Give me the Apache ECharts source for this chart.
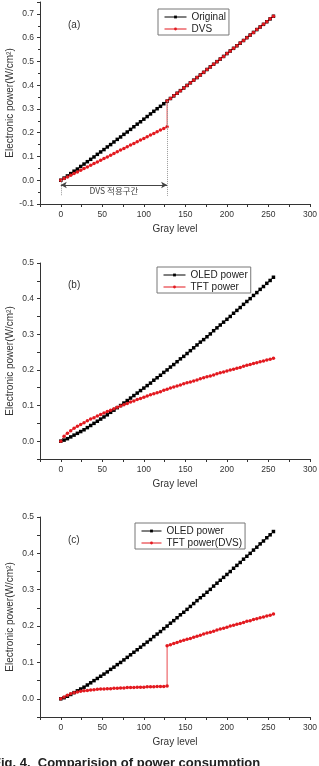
<!DOCTYPE html>
<html>
<head>
<meta charset="utf-8">
<script src="https://cdn.jsdelivr.net/npm/echarts@6/dist/echarts.min.js"></script>
<style>
    html, body { margin: 0; padding: 0; background: #fff; }
    #power-chart { width: 319px; height: 766px; }
</style>
</head>
<body>
<div id="power-chart"></div>
<script>
    // gray levels, one point every 4 steps
    var grayLevels = [0,4,8,12,16,20,24,28,32,36,40,44,48,52,56,60,64,68,72,76,80,84,88,92,96,100,
        104,108,112,116,120,124,128,132,136,140,144,148,152,156,160,164,168,172,176,180,184,188,192,196,
        200,204,208,212,216,220,224,228,232,236,240,244,248,252,256];

    // (a) original power, whole range
    var originalA = [0,.009,.018,.028,.038,.047,.058,.068,.078,.088,.098,.109,.119,.129,.140,.150,.161,
        .172,.182,.193,.203,.214,.225,.236,.246,.257,.268,.279,.290,.301,.311,.322,.333,.344,.355,.366,
        .377,.388,.399,.410,.421,.432,.443,.454,.466,.477,.488,.499,.510,.521,.533,.544,.555,.566,.577,
        .588,.600,.611,.622,.634,.645,.656,.667,.679,.690];
    // (a) DVS, gray 0..128 and gray 128..256
    var dvsLowA = [0,.007,.014,.021,.028,.035,.042,.049,.056,.063,.070,.077,.084,.091,.098,.105,.112,
        .120,.127,.134,.141,.148,.155,.162,.169,.176,.183,.190,.197,.204,.211,.218,.225];
    var dvsHighA = [.333,.344,.355,.366,.377,.388,.399,.410,.421,.432,.443,.454,.466,.477,.488,.499,
        .510,.521,.533,.544,.555,.566,.577,.588,.600,.611,.622,.634,.645,.656,.667,.679,.690];

    // (b)/(c) OLED power
    var oledPower = [0,.003,.007,.012,.017,.022,.027,.032,.038,.044,.050,.056,.062,.068,.074,.081,.087,
        .094,.100,.107,.114,.121,.128,.135,.142,.149,.156,.163,.171,.178,.185,.193,.200,.208,.215,.223,
        .231,.238,.246,.254,.262,.270,.278,.285,.293,.301,.310,.318,.326,.334,.342,.350,.359,.367,.375,
        .384,.392,.400,.409,.417,.426,.434,.443,.451,.460];
    // (b) TFT power
    var tftPower = [0,.014,.022,.029,.036,.042,.047,.052,.057,.062,.066,.071,.075,.079,.083,.087,.091,
        .095,.099,.102,.106,.110,.113,.117,.120,.123,.127,.130,.133,.136,.139,.143,.146,.149,.152,.155,
        .158,.161,.164,.166,.169,.172,.175,.178,.181,.183,.186,.189,.192,.194,.197,.200,.202,.205,.207,
        .210,.213,.215,.218,.220,.223,.225,.228,.230,.233];
    // (c) TFT power with DVS, gray 0..128 and gray 128..256
    var tftDvsLow = [0,.005,.010,.014,.017,.019,.021,.022,.023,.024,.025,.026,.027,.027,.028,.028,.029,
        .029,.030,.030,.031,.031,.031,.032,.032,.032,.033,.033,.033,.034,.034,.034,.035];
    var tftDvsHigh = [.146,.149,.152,.155,.158,.161,.164,.166,.169,.172,.175,.178,.181,.183,.186,.189,
        .192,.194,.197,.200,.202,.205,.207,.210,.213,.215,.218,.220,.223,.225,.228,.230,.233];

    var RED = '#e3191f';
    var FONT = '"Liberation Sans", Arial, sans-serif';

    function pairs(xs, ys) {
        return ys.map(function (y, i) { return [xs[i], y]; });
    }
    var lowGray = grayLevels.slice(0, 33);
    var highGray = grayLevels.slice(32);

    function xAxisFor(idx) {
        return {
            type: 'value', gridIndex: idx, min: -25, max: 300, interval: 25,
            name: 'Gray level', nameLocation: 'middle', nameGap: 20,
            nameTextStyle: { fontSize: 10, color: '#333', fontFamily: FONT },
            axisLine: { onZero: false, lineStyle: { color: '#333', width: 1 } },
            axisTick: { length: 3, lineStyle: { color: '#333' } },
            splitLine: { show: false },
            axisLabel: {
                fontSize: 8.5, color: '#333', fontFamily: FONT, margin: 6,
                formatter: function (v) {
                    var r = Math.round(v);
                    return (r % 50 === 0 && r >= 0) ? String(r) : '';
                }
            }
        };
    }
    function yAxisFor(idx, min, max, interval, fmt) {
        return {
            type: 'value', gridIndex: idx, min: min, max: max, interval: interval,
            name: 'Electronic power(W/cm²)', nameLocation: 'middle', nameRotate: 90,
            nameGap: 25, nameMoveOverlap: false,
            nameTextStyle: { fontSize: 10, color: '#333', fontFamily: FONT },
            axisLine: { show: true, onZero: false, lineStyle: { color: '#333', width: 1 } },
            axisTick: { show: true, length: 3, lineStyle: { color: '#333' } },
            minorTick: { show: interval === 0.1, splitNumber: 2, length: 2, lineStyle: { color: '#333' } },
            splitLine: { show: false },
            axisLabel: { fontSize: 8.5, color: '#333', fontFamily: FONT, margin: 6, showMaxLabel: min === -0.1 ? false : true, formatter: fmt }
        };
    }
    function oneDecimal(v) { return v.toFixed(1); }
    function tenthsOnly(v) {
        var c = Math.round(v * 100);
        return (c % 10 === 0 && c >= 0) ? (c / 100).toFixed(1) : '';
    }
    function legendFor(left, top, names, width) {
        return {
            orient: 'vertical', left: left, top: top, data: names,
            borderColor: '#777', borderWidth: 1, borderRadius: 0,
            padding: [3, 3, 1, 6], itemGap: 2, itemWidth: width, itemHeight: 3.5,
            lineStyle: { width: 1 },
            textStyle: { fontSize: 10, color: '#222', fontFamily: FONT }
        };
    }
    function blackSeries(name, idx, data) {
        return {
            name: name, type: 'line', xAxisIndex: idx, yAxisIndex: idx, data: data,
            symbol: 'rect', symbolSize: 3.5, itemStyle: { color: '#000' },
            lineStyle: { color: '#000', width: 1 }
        };
    }
    function redSeries(name, idx, data) {
        return {
            name: name, type: 'line', xAxisIndex: idx, yAxisIndex: idx, data: data,
            symbol: 'circle', symbolSize: 3.5, itemStyle: { color: RED },
            lineStyle: { color: RED, width: 0.8 }
        };
    }

    var origSeries = blackSeries('Original', 0, pairs(grayLevels, originalA));
    origSeries.markLine = {
        silent: true, symbol: ['none', 'none'], animation: false,
        label: { show: false },
        lineStyle: { type: 'dotted', color: '#999', width: 1 },
        data: [
            [{ coord: [0, 0] }, { coord: [0, -0.066] }],
            [{ coord: [128, 0.333] }, { coord: [128, -0.066] }]
        ]
    };
    var dvsSeries = redSeries('DVS', 0, pairs(lowGray, dvsLowA).concat(pairs(highGray, dvsHighA)));
    dvsSeries.markLine = {
        silent: true, symbol: ['arrow', 'arrow'], symbolSize: [5, 6], animation: false,
        lineStyle: { type: 'solid', color: '#444', width: 1 },
        label: {
            show: true, position: 'insideMiddleBottom', formatter: 'DVS 적용구간', distance: 2,
            fontSize: 8.5, color: '#444', fontFamily: '"Noto Sans CJK KR", sans-serif'
        },
        data: [[{ coord: [0, -0.02] }, { coord: [128, -0.02] }]]
    };

    var option = {
        animation: false,
        grid: [
            { left: 40, right: 9, top: 2, height: 202, outerBoundsMode: 'none' },
            { left: 40, right: 9, top: 263, height: 196, outerBoundsMode: 'none' },
            { left: 40, right: 9, top: 517, height: 200, outerBoundsMode: 'none' }
        ],
        xAxis: [xAxisFor(0), xAxisFor(1), xAxisFor(2)],
        yAxis: [
            yAxisFor(0, -0.1, 0.75, 0.1, oneDecimal),
            yAxisFor(1, -0.05, 0.5, 0.05, tenthsOnly),
            yAxisFor(2, -0.05, 0.5, 0.05, tenthsOnly)
        ],
        legend: [
            legendFor(158, 9, ['Original', 'DVS'], 22),
            legendFor(157, 267, ['OLED power', 'TFT power'], 22),
            legendFor(135, 523, ['OLED power', 'TFT power(DVS)'], 20)
        ],
        graphic: [
            { type: 'text', x: 68, y: 20, style: { text: '(a)', font: '10px ' + FONT, fill: '#333' } },
            { type: 'text', x: 68, y: 280, style: { text: '(b)', font: '10px ' + FONT, fill: '#333' } },
            { type: 'text', x: 68, y: 535, style: { text: '(c)', font: '10px ' + FONT, fill: '#333' } },
            { type: 'text', x: -7, y: 757, style: { text: 'Fig. 4.  Comparision of power consumption', font: 'bold 13px ' + FONT, fill: '#222' } }
        ],
        series: [
            origSeries,
            dvsSeries,
            blackSeries('OLED power', 1, pairs(grayLevels, oledPower)),
            redSeries('TFT power', 1, pairs(grayLevels, tftPower)),
            blackSeries('OLED power', 2, pairs(grayLevels, oledPower)),
            redSeries('TFT power(DVS)', 2, pairs(lowGray, tftDvsLow).concat(pairs(highGray, tftDvsHigh)))
        ]
    };

    var powerChart = echarts.init(document.getElementById('power-chart'));
    powerChart.setOption(option);
</script>
</body>
</html>
